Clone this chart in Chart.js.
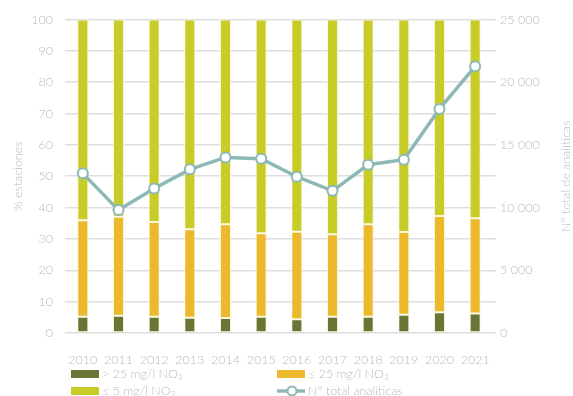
<!DOCTYPE html>
<html>
<head>
<meta charset="utf-8">
<script src="https://cdn.jsdelivr.net/npm/chart.js@4"></script>
<style>
  html, body { margin: 0; padding: 0; background: #fff; }
  #wrap { position: relative; width: 573px; height: 396px; overflow: hidden; }
  #legend { position: absolute; left: 0; top: 0; width: 573px; height: 396px; pointer-events: none;
            font-family: Lato, "Open Sans", sans-serif; font-weight: 300; font-size: 12.5px; color: #bababa; }
  .item { position: absolute; height: 16px; line-height: 16px; white-space: nowrap; }
  .box { position: absolute; left: 0; top: 4px; width: 28px; height: 8px; }
  .txt { position: absolute; left: 31px; top: 0; }
  sub { font-size: 8px; vertical-align: -2px; line-height: 0; }
</style>
</head>
<body>
<div id="wrap">
  <canvas id="chart" width="573" height="396"></canvas>
  <div id="legend"></div>
</div>
<script>
var years = ['2010','2011','2012','2013','2014','2015','2016','2017','2018','2019','2020','2021'];
var over25 = [5.2, 5.5, 5.2, 4.9, 4.8, 5.2, 4.4, 5.2, 5.2, 5.8, 6.6, 6.2];
var upTo25 = [30.8, 31.6, 30.2, 28.2, 29.9, 26.6, 27.9, 26.3, 29.5, 26.4, 30.7, 30.4];
var upTo5 = [64.0, 62.9, 64.6, 66.9, 65.3, 68.2, 67.7, 68.5, 65.3, 67.8, 62.7, 63.4];
var totalAnaliticas = [12730, 9800, 11530, 13050, 14000, 13900, 12460, 11340, 13420, 13820, 17870, 21270];

var grey = '#bababa';
var font = {family: 'Lato, "Open Sans", sans-serif', size: 12.5, weight: 300};

// right axis title reads bottom to top, so draw it by hand
var rightTitle = {
    id: 'rightTitle',
    afterDraw: function (chart) {
        var ctx = chart.ctx, a = chart.chartArea;
        ctx.save();
        ctx.translate(566, (a.top + a.bottom) / 2);
        ctx.rotate(-Math.PI / 2);
        ctx.font = '300 12.5px ' + font.family;
        ctx.fillStyle = grey;
        ctx.textAlign = 'center';
        ctx.textBaseline = 'middle';
        ctx.fillText('Nº total de analíticas', 0, 0);
        ctx.restore();
    }
};

var barCommon = {borderColor: 'rgba(250,246,215,0.9)', borderWidth: 1, borderSkipped: false,
                 barPercentage: 0.31, categoryPercentage: 1, stack: 's', yAxisID: 'y', order: 2};

var chart = new Chart(document.getElementById('chart').getContext('2d'), {
    type: 'bar',
    data: {
        labels: years,
        datasets: [
            Object.assign({label: '> 25 mg/l NO₃', data: over25, backgroundColor: '#687534'}, barCommon),
            Object.assign({label: '≤ 25 mg/l NO₃', data: upTo25, backgroundColor: '#ebb92b'}, barCommon),
            Object.assign({label: '≤ 5 mg/l NO₃', data: upTo5, backgroundColor: '#c8cc29'}, barCommon),
            {type: 'line', label: 'Nº total analíticas', data: totalAnaliticas, yAxisID: 'y1', order: 1,
             borderColor: '#8cb8b6', borderWidth: 3.5, backgroundColor: '#fff',
             pointRadius: 5, pointBorderWidth: 2, pointBorderColor: '#8cb8b6', pointBackgroundColor: '#fff',
             tension: 0}
        ]
    },
    options: {
        responsive: false,
        animation: false,
        layout: {padding: {top: 12, right: 0, left: 0, bottom: 0}},
        plugins: {legend: {display: false}, tooltip: {enabled: false}},
        scales: {
            x: {
                stacked: true,
                grid: {display: false},
                border: {display: false},
                ticks: {color: grey, font: font, padding: 11, maxRotation: 0, autoSkip: false},
                afterFit: function (s) { s.height = 63; }
            },
            y: {
                stacked: true, position: 'left', min: 0, max: 100,
                ticks: {stepSize: 10, color: grey, font: font, padding: 12},
                grid: {color: '#dedede', lineWidth: 1.6, drawTicks: false},
                border: {display: false},
                title: {display: true, text: '% estaciones', color: grey, font: font, padding: {top: 10, bottom: 0}},
                afterFit: function (s) { s.width = 65; }
            },
            y1: {
                position: 'right', min: 0, max: 25000,
                ticks: {stepSize: 2500, color: grey, font: font, padding: 4,
                        callback: function (v) { return v % 5000 === 0 ? String(v).replace(/\B(?=(\d{3})+(?!\d))/g, ' ') : ''; }},
                grid: {drawOnChartArea: false, color: '#dedede', lineWidth: 1.6, tickLength: 3},
                border: {display: false},
                afterFit: function (s) { s.width = 80; }
            }
        }
    },
    plugins: [rightTitle]
});

// legend in two columns, built from the chart's datasets
var spots = [[71, 366], [277, 366], [71, 383], [277, 383]];
var legend = document.getElementById('legend');
chart.data.datasets.forEach(function (ds, i) {
    var item = document.createElement('div');
    item.className = 'item';
    item.style.left = spots[i][0] + 'px';
    item.style.top = spots[i][1] + 'px';
    var mark;
    if (ds.type === 'line') {
        mark = '<svg class="box" style="top:1px;height:14px" width="28" height="14">' +
               '<line x1="0" y1="7" x2="28" y2="7" stroke="' + ds.borderColor + '" stroke-width="3.5"/>' +
               '<circle cx="15" cy="7" r="4.5" fill="#fff" stroke="' + ds.borderColor + '" stroke-width="2"/></svg>';
    } else {
        mark = '<span class="box" style="background:' + ds.backgroundColor + '"></span>';
    }
    var text = ds.label.replace('NO₃', 'NO<sub>3</sub>');
    item.innerHTML = mark + '<span class="txt">' + text + '</span>';
    legend.appendChild(item);
});
</script>
</body>
</html>
